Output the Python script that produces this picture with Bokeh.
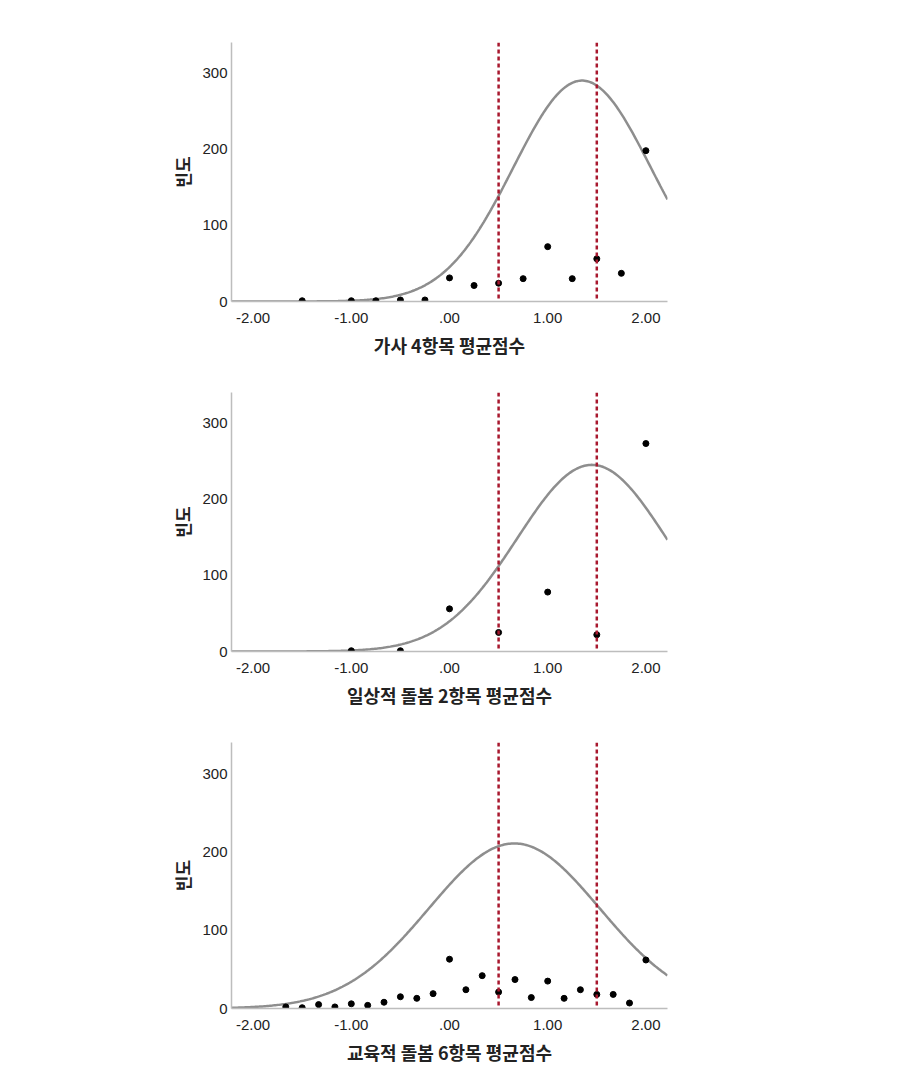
import numpy as np
from bokeh.plotting import figure
from bokeh.layouts import column
from bokeh.models import Range1d, FixedTicker, Span
from bokeh.embed import file_html
from bokeh.resources import INLINE

# ---------------- data ----------------
x_ticks = [-2, -1, 0, 1, 2]
x_tick_labels = ["-2.00", "-1.00", ".00", "1.00", "2.00"]
y_ticks = [0, 100, 200, 300]
y_tick_labels = ["0", "100", "200", "300"]
cutoffs = [0.5, 1.5]
y_label = "빈도"

titles = ["가사 4항목 평균점수", "일상적 돌봄 2항목 평균점수", "교육적 돌봄 6항목 평균점수"]

p1_x = [-1.5, -1.0, -0.75, -0.5, -0.25, 0.0, 0.25, 0.5, 0.75, 1.0, 1.25, 1.5, 1.75, 2.0]
p1_y = [1, 1, 1, 2, 2, 31, 21, 24, 30, 72, 30, 56, 37, 198]

p2_x = [-1.0, -0.5, 0.0, 0.5, 1.0, 1.5, 2.0]
p2_y = [1, 1, 56, 25, 78, 22, 273]

p3_x = [-1.667, -1.5, -1.333, -1.167, -1.0, -0.833, -0.667, -0.5, -0.333, -0.167,
        0.0, 0.167, 0.333, 0.5, 0.667, 0.833, 1.0, 1.167, 1.333, 1.5, 1.667, 1.833, 2.0]
p3_y = [2, 1, 5, 2, 6, 4, 8, 15, 13, 19, 63, 24, 42, 21, 37, 14, 35, 13, 24, 18, 18, 7, 62]

# fitted normal curve parameters: mean, sd, peak height
fit_mean = [1.35, 1.45, 0.66]
fit_sd = [0.70, 0.76, 0.87]
fit_peak = [290, 245, 211]

# ---------------- styling ----------------
X_MIN, X_MAX = -2.22, 2.22
Y_MIN, Y_MAX = 0, 340
FIG_W = 880
LEFT = 231
FRAME_W = 436
RED = "#a8182e"
CURVE = "#8e8e8e"
AXIS_COL = "#bdbdbd"
TXT = "#222222"


def make_panel(xs, ys, mean, sd, peak, title, top, frame_h, bottom):
    height = top + frame_h + bottom
    p = figure(width=FIG_W, height=height, output_backend="svg", toolbar_location=None,
               x_range=Range1d(X_MIN, X_MAX), y_range=Range1d(Y_MIN, Y_MAX),
               min_border_left=LEFT, min_border_right=FIG_W - LEFT - FRAME_W,
               min_border_top=top, min_border_bottom=bottom)
    p.outline_line_color = None
    p.xgrid.visible = False
    p.ygrid.visible = False
    p.background_fill_color = "white"
    p.border_fill_color = "white"

    gx = np.linspace(X_MIN, X_MAX, 300)
    gy = peak * np.exp(-0.5 * ((gx - mean) / sd) ** 2)
    p.line(gx, gy, line_color=CURVE, line_width=2.5)

    for c in cutoffs:
        p.add_layout(Span(location=c, dimension="height", line_color=RED,
                          line_dash="4 3", line_width=2.5))

    p.scatter(xs, ys, size=6, color="black")

    xa = p.xaxis[0]
    xa.ticker = FixedTicker(ticks=x_ticks)
    xa.major_label_overrides = {t: l for t, l in zip(x_ticks, x_tick_labels)}
    xa.axis_label = title
    ya = p.yaxis[0]
    ya.ticker = FixedTicker(ticks=y_ticks)
    ya.major_label_overrides = {t: l for t, l in zip(y_ticks, y_tick_labels)}
    ya.axis_label = y_label

    for ax in (xa, ya):
        ax.major_tick_in = 0
        ax.major_tick_out = 0
        ax.minor_tick_in = 0
        ax.minor_tick_out = 0
        ax.axis_line_color = AXIS_COL
        ax.axis_line_width = 1.5
        ax.major_label_text_font = "Liberation Sans"
        ax.major_label_text_font_size = "15px"
        ax.major_label_text_color = TXT
        ax.axis_label_text_font = "Noto Sans CJK KR"
        ax.axis_label_text_font_style = "bold"
        ax.axis_label_text_color = TXT
    xa.axis_label_text_font_size = "18px"
    ya.axis_label_text_font_size = "17px"
    xa.major_label_standoff = 11
    xa.axis_label_standoff = 6
    ya.major_label_standoff = 4
    ya.axis_label_standoff = 4
    return p


p1 = make_panel(p1_x, p1_y, fit_mean[0], fit_sd[0], fit_peak[0], titles[0], 42, 259, 64)
p2 = make_panel(p2_x, p2_y, fit_mean[1], fit_sd[1], fit_peak[1], titles[1], 27, 259, 64)
p3 = make_panel(p3_x, p3_y, fit_mean[2], fit_sd[2], fit_peak[2], titles[2], 27, 266, 64)

layout = column(p1, p2, p3, spacing=0)
open("out.html", "w").write(file_html(layout, INLINE))
